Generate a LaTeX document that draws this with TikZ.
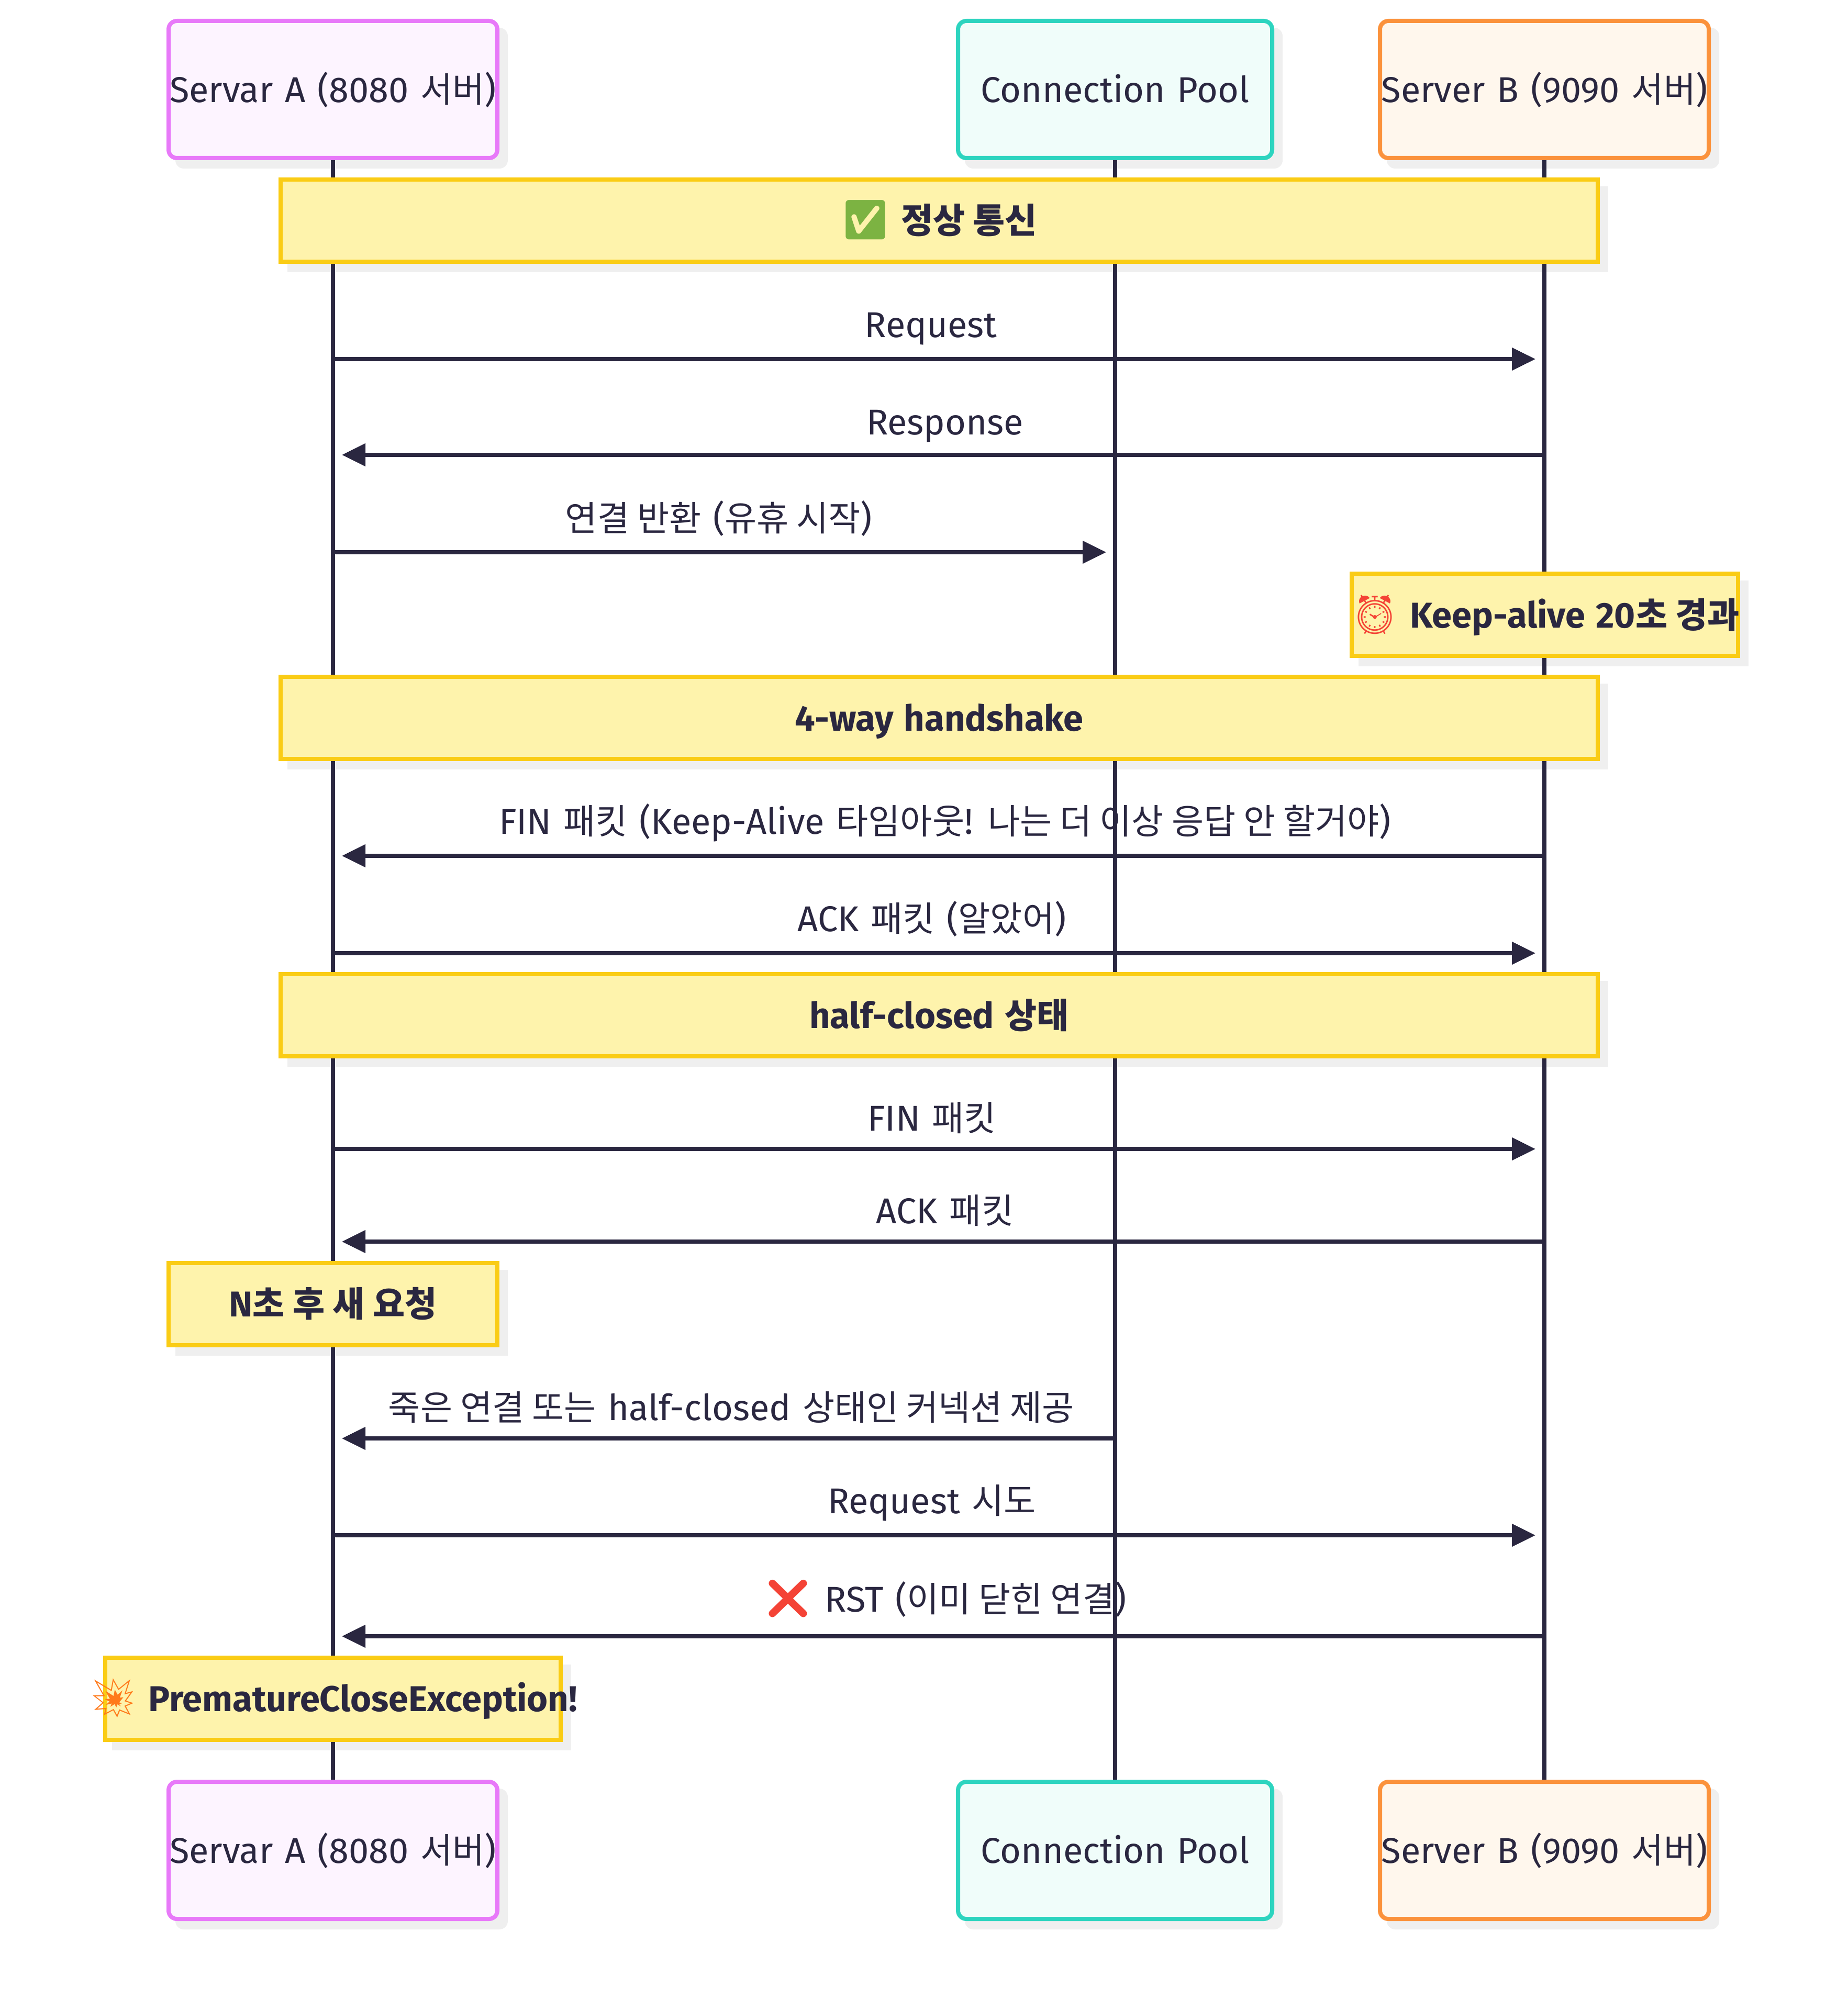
\documentclass[tikz,border=0pt]{standalone}
\usepackage{fontspec}
\usetikzlibrary{arrows.meta}
\setmainfont[WordSpace=1.25]{Fira Sans}
\newfontfamily\krfont[Scale=0.97]{Noto Sans CJK KR}
\newfontfamily\emojifont[Scale=1.08]{Noto Emoji}
\newcommand{\kr}[1]{{\krfont #1}}
\newcommand{\wide}[1]{\makebox[0pt]{#1}}
\definecolor{ink}{HTML}{2A2740}
\definecolor{shadowgray}{HTML}{EFEFEF}
\definecolor{notefill}{HTML}{FEF3AC}
\definecolor{noteline}{HTML}{FACC15}
\definecolor{actorAline}{HTML}{E879F9}
\definecolor{actorAfill}{HTML}{FDF4FF}
\definecolor{actorPline}{HTML}{2DD4BF}
\definecolor{actorPfill}{HTML}{F0FDFA}
\definecolor{actorBline}{HTML}{FB923C}
\definecolor{actorBfill}{HTML}{FFF7ED}
\pgfdeclarelayer{shadelayer}
\pgfdeclarelayer{lifelayer}
\pgfsetlayers{shadelayer,lifelayer,main}
\tikzset{
  every node/.style={font=\fontsize{19.5pt}{23pt}\selectfont, text=ink, inner sep=0, outer sep=0},
  actorbox/.style={draw, line width=0.08cm, rounded corners=0.16cm, minimum height=2.62cm, text height=0.62cm, text depth=0.13cm},
  actorA/.style={actorbox, draw=actorAline, fill=actorAfill, minimum width=6.28cm},
  actorP/.style={actorbox, draw=actorPline, fill=actorPfill, minimum width=6cm},
  actorB/.style={actorbox, draw=actorBline, fill=actorBfill, minimum width=6.28cm},
  notebox/.style={draw=noteline, fill=notefill, line width=0.08cm, minimum height=1.57cm, text height=0.62cm, text depth=0.13cm, font=\fontsize{19.5pt}{23pt}\selectfont\bfseries},
  msg/.style={draw=ink, line width=0.08cm, -{Triangle[length=0.45cm,width=0.42cm]}, shorten >=0.17cm},
  msgtext/.style={anchor=base},
  lifeline/.style={draw=ink, line width=0.08cm}
}
\begin{document}
\begin{tikzpicture}
\useasboundingbox (0,0) rectangle (35.29,-38.40);

% Define actors
\node[actorA] (srvA) at (6.36,-1.71) {\wide{Servar A (8080 \kr{서버})}};
\node[actorP] (pool) at (21.30,-1.71) {\wide{Connection Pool}};
\node[actorB] (srvB) at (29.50,-1.71) {\wide{Server B (9090 \kr{서버})}};
\node[actorA] (srvAend) at (6.36,-35.35) {\wide{Servar A (8080 \kr{서버})}};
\node[actorP] (poolend) at (21.30,-35.35) {\wide{Connection Pool}};
\node[actorB] (srvBend) at (29.50,-35.35) {\wide{Server B (9090 \kr{서버})}};

% Define notes
\node[notebox, minimum width=25.16cm] (normal) at (17.94,-4.215) {\wide{{\color[HTML]{7CB342}\emojifont ✅} \kr{정상 통신}}};
\node[notebox, minimum width=7.38cm] (keepalive) at (29.51,-11.745) {\wide{{\color[HTML]{F44336}\emojifont ⏰} Keep-alive 20\kr{초 경과}}};
\node[notebox, minimum width=25.16cm] (handshake) at (17.94,-13.715) {\wide{4-way handshake}};
\node[notebox, minimum width=25.16cm] (halfclosed) at (17.94,-19.395) {\wide{half-closed \kr{상태}}};
\node[notebox, minimum width=6.28cm] (newreq) at (6.36,-24.91) {\wide{N\kr{초 후 새 요청}}};
\node[notebox, minimum width=8.70cm] (premature) at (6.36,-32.45) {\wide{{\color[HTML]{FF7A1A}\emojifont 💥} PrematureCloseException!}};

% Draw lifelines and shadows behind the boxes
\begin{pgfonlayer}{lifelayer}
\draw[lifeline] (srvA) -- (srvAend);
\draw[lifeline] (pool) -- (poolend);
\draw[lifeline] (srvB) -- (srvBend);
\end{pgfonlayer}
\begin{pgfonlayer}{shadelayer}
\foreach \n in {srvA,pool,srvB,srvAend,poolend,srvBend}
  \fill[shadowgray, rounded corners=0.16cm] ([shift={(0.13,-0.13)}]\n.north west) rectangle ([shift={(0.2,-0.2)}]\n.south east);
\foreach \n in {normal,keepalive,handshake,halfclosed,newreq,premature}
  \fill[shadowgray] ([shift={(0.13,-0.13)}]\n.north west) rectangle ([shift={(0.2,-0.2)}]\n.south east);
\end{pgfonlayer}

% Draw messages
\coordinate (m1) at (0,-6.86);
\coordinate (m2) at (0,-8.69);
\coordinate (m3) at (0,-10.55);
\coordinate (m4) at (0,-16.35);
\coordinate (m5) at (0,-18.21);
\coordinate (m6) at (0,-21.95);
\coordinate (m7) at (0,-23.72);
\coordinate (m8) at (0,-27.48);
\coordinate (m9) at (0,-29.33);
\coordinate (m10) at (0,-31.26);

\draw[msg] (srvA |- m1) -- (srvB |- m1);
\draw[msg] (srvB |- m2) -- (srvA |- m2);
\draw[msg] (srvA |- m3) -- (pool |- m3);
\draw[msg] (srvB |- m4) -- (srvA |- m4);
\draw[msg] (srvA |- m5) -- (srvB |- m5);
\draw[msg] (srvA |- m6) -- (srvB |- m6);
\draw[msg] (srvB |- m7) -- (srvA |- m7);
\draw[msg] (pool |- m8) -- (srvA |- m8);
\draw[msg] (srvA |- m9) -- (srvB |- m9);
\draw[msg] (srvB |- m10) -- (srvA |- m10);

% Message labels
\node[msgtext] (t1) at (17.78,-6.44) {Request};
\node[msgtext] (t2) at (18.05,-8.30) {Response};
\node[msgtext] (t3) at (13.73,-10.14) {\kr{연결 반환} (\kr{유휴 시작})};
\node[msgtext] (t4) at (18.05,-15.93) {FIN \kr{패킷} (Keep-Alive \kr{타임아웃}! \kr{나는 더 이상 응답 안 할거야})};
\node[msgtext] (t5) at (17.80,-17.79) {ACK \kr{패킷} (\kr{알았어})};
\node[msgtext] (t6) at (17.80,-21.60) {FIN \kr{패킷}};
\node[msgtext] (t7) at (18.05,-23.37) {ACK \kr{패킷}};
\node[msgtext] (t8) at (13.97,-27.13) {\kr{죽은 연결 또는} half-closed \kr{상태인 커넥션 제공}};
\node[msgtext] (t9) at (17.80,-28.91) {Request \kr{시도}};
\node[msgtext] (t10) at (18.05,-30.79) {{\color[HTML]{F44336}\emojifont ❌} RST (\kr{이미 닫힌 연결})};

\end{tikzpicture}
\end{document}
